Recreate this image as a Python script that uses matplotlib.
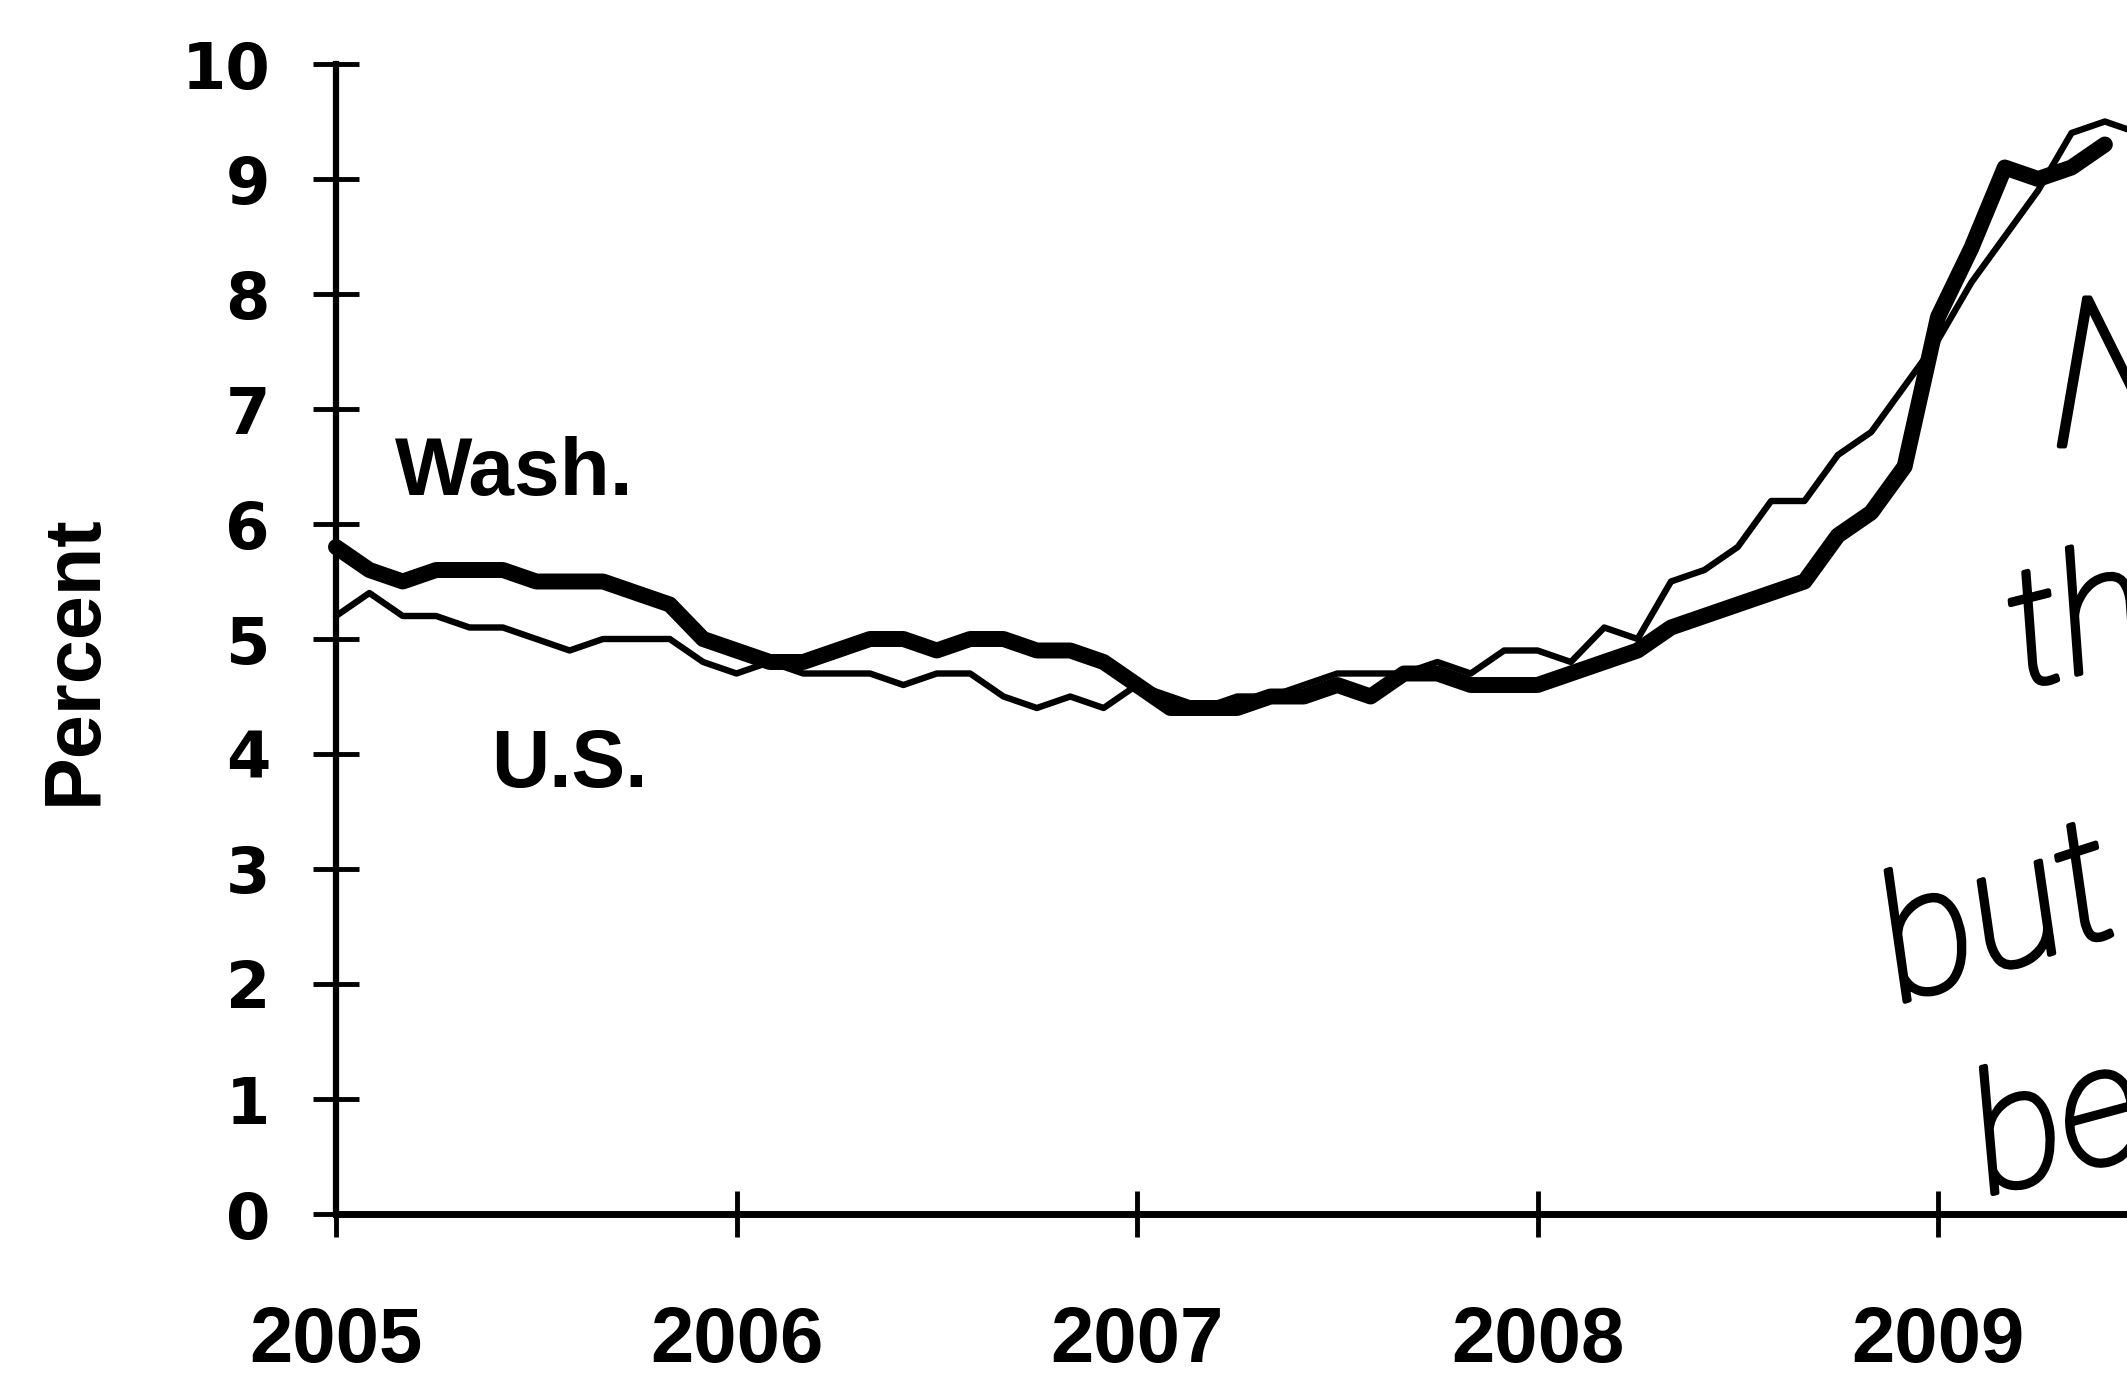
import numpy as np
import matplotlib.pyplot as plt
import matplotlib.patheffects as pe

# monthly unemployment rate, Jan 2005 onward (percent)
wash = [5.8, 5.6, 5.5, 5.6, 5.6, 5.6, 5.5, 5.5, 5.5, 5.4, 5.3, 5.0,
        4.9, 4.8, 4.8, 4.9, 5.0, 5.0, 4.9, 5.0, 5.0, 4.9, 4.9, 4.8,
        4.6, 4.4, 4.4, 4.4, 4.5, 4.5, 4.6, 4.5, 4.7, 4.7, 4.6, 4.6,
        4.6, 4.7, 4.8, 4.9, 5.1, 5.2, 5.3, 5.4, 5.5, 5.9, 6.1, 6.5,
        7.8, 8.4, 9.1, 9.0, 9.1, 9.3]
us = [5.2, 5.4, 5.2, 5.2, 5.1, 5.1, 5.0, 4.9, 5.0, 5.0, 5.0, 4.8,
      4.7, 4.8, 4.7, 4.7, 4.7, 4.6, 4.7, 4.7, 4.5, 4.4, 4.5, 4.4,
      4.6, 4.5, 4.4, 4.5, 4.5, 4.6, 4.7, 4.7, 4.7, 4.8, 4.7, 4.9,
      4.9, 4.8, 5.1, 5.0, 5.5, 5.6, 5.8, 6.2, 6.2, 6.6, 6.8, 7.2,
      7.6, 8.1, 8.5, 8.9, 9.4, 9.5, 9.4]
start_year = 2005
years = [2005, 2006, 2007, 2008, 2009]
yticks = list(range(0, 11))

# handwritten notes in the margin (cut off by the page edge, as in the scan)
notes = ["N", "the", "but", "be"]

W, H = 2127, 1384
fig = plt.figure(figsize=(W / 100, H / 100), dpi=100)
ax = fig.add_axes([336 / W, 170 / H, 2002.5 / W, 1150 / H])

xw = start_year + np.arange(len(wash)) / 12
xu = start_year + np.arange(len(us)) / 12
ax.plot(xu, us, color="black", lw=4.6, solid_joinstyle="round",
        solid_capstyle="round", clip_on=False)
ax.plot(xw, wash, color="black", lw=11.5, solid_joinstyle="round",
        solid_capstyle="round", clip_on=False)

ax.set_xlim(2005, 2010)
ax.set_ylim(0, 10)

ax.spines["top"].set_visible(False)
ax.spines["right"].set_visible(False)
ax.spines["left"].set_linewidth(4.5)
ax.spines["bottom"].set_linewidth(5)

ax.set_xticks(years)
ax.set_xticklabels([str(y) for y in years])
ax.set_yticks(yticks)
ax.set_yticklabels([str(v) for v in yticks])
ax.tick_params(axis="both", direction="inout", length=33, width=3.5,
               color="black")
ax.tick_params(axis="y", pad=31)
ax.tick_params(axis="x", pad=49)
for lab in ax.get_yticklabels():
    lab.set_fontfamily("DejaVu Sans")
    lab.set_fontweight("bold")
    lab.set_fontsize(46)
for lab in ax.get_xticklabels():
    lab.set_fontfamily("Liberation Sans")
    lab.set_fontweight("bold")
    lab.set_fontsize(56)

fig.text(75 / W, 1 - 660 / H, "Percent", rotation=90, ha="center",
         va="center", fontsize=57, fontweight="bold",
         family="Liberation Sans")

ax.text(2005.147, 6.25, "Wash.", fontsize=59, fontweight="bold",
        family="Liberation Sans", ha="left", va="baseline")
ax.text(2005.387, 3.71, "U.S.", fontsize=58, fontweight="bold",
        family="Liberation Sans", ha="left", va="baseline")

# margin notes: x, y (pixels from top-left), size, angle
note_pos = [(2050, 446, 150, 0), (2022, 688, 120, 14),
            (1900, 1003, 125, 18), (1988, 1195, 120, 15)]
for txt, (px, py, fs, rot) in zip(notes, note_pos):
    fig.text(px / W, 1 - py / H, txt, fontsize=fs, style="italic",
             fontweight="light", family="Roboto", rotation=rot,
             rotation_mode="anchor", ha="left", va="baseline",
             path_effects=[pe.withStroke(linewidth=3.5, foreground="black")])

fig.savefig("out.png", dpi=100)
